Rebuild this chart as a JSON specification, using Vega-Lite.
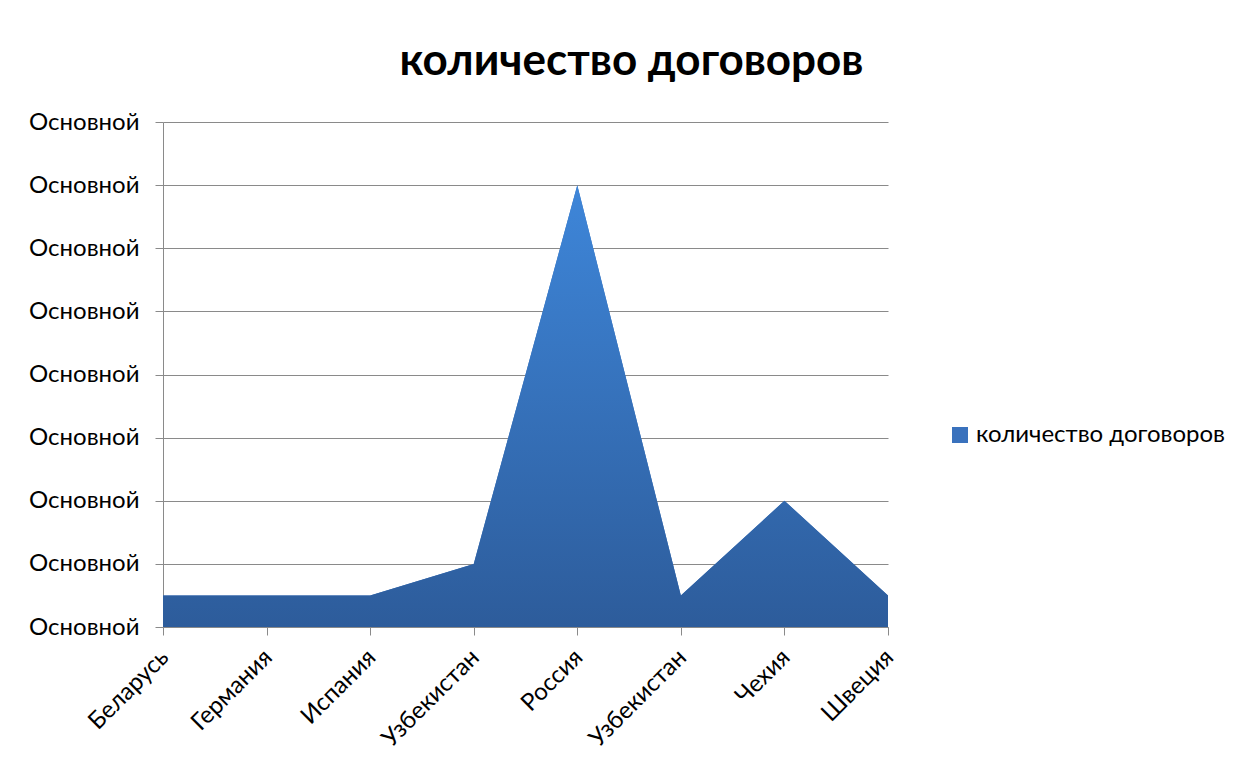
{
  "$schema": "https://vega.github.io/schema/vega-lite/v6.json",
  "autosize": {"type": "none"},
  "width": 725,
  "height": 505,
  "padding": {"left": 163, "top": 122, "right": 357, "bottom": 142},
  "background": "white",
  "title": {
    "text": "количество договоров",
    "font": "Lato",
    "fontSize": 44,
    "fontWeight": "bold",
    "color": "#000000",
    "anchor": "middle",
    "frame": "group",
    "dx": 106,
    "offset": 26
  },
  "data": {
    "values": [
      {"country": "Беларусь", "value": 1, "series": "количество договоров"},
      {"country": "Германия", "value": 1, "series": "количество договоров"},
      {"country": "Испания", "value": 1, "series": "количество договоров"},
      {"country": "Узбекистан", "value": 2, "series": "количество договоров"},
      {"country": "Россия", "value": 14, "series": "количество договоров"},
      {"country": "Узбекистан ", "value": 1, "series": "количество договоров"},
      {"country": "Чехия", "value": 4, "series": "количество договоров"},
      {"country": "Швеция", "value": 1, "series": "количество договоров"}
    ]
  },
  "encoding": {
    "x": {
      "field": "country",
      "type": "ordinal",
      "sort": null,
      "scale": {"type": "point", "padding": 0},
      "axis": {
        "title": null,
        "labelAngle": -45,
        "labelFont": "Lato",
        "labelFontSize": 24,
        "labelColor": "#000000",
        "labelPadding": 10,
        "labelOffset": -7,
        "labelLimit": 0,
        "tickSize": 8,
        "tickColor": "#8a8a8a",
        "domainColor": "#8a8a8a",
        "grid": false
      }
    },
    "y": {
      "field": "value",
      "type": "quantitative",
      "scale": {"domain": [0, 16], "nice": false},
      "axis": {
        "title": null,
        "values": [0, 2, 4, 6, 8, 10, 12, 14, 16],
        "labelExpr": "'Основной'",
        "labelFont": "Lato",
        "labelFontSize": 24,
        "labelColor": "#000000",
        "labelPadding": 16,
        "labelLimit": 0,
        "tickSize": 8,
        "tickColor": "#8a8a8a",
        "domainColor": "#8a8a8a",
        "grid": true,
        "gridColor": "#8a8a8a",
        "gridWidth": 1
      }
    }
  },
  "layer": [
    {
      "mark": {"type": "area", "line": false, "strokeWidth": 0},
      "encoding": {
        "color": {
          "field": "series",
          "type": "nominal",
          "scale": {"range": ["#3a72bd"]},
          "legend": {
            "title": null,
            "orient": "none",
            "legendX": 785,
            "legendY": 301,
            "symbolType": "square",
            "symbolSize": 256,
            "symbolStrokeWidth": 0,
            "labelFont": "Lato",
            "labelFontSize": 24,
            "labelColor": "#000000",
            "labelOffset": 4,
            "labelLimit": 0,
            "padding": 0
          }
        }
      }
    },
    {
      "mark": {
        "type": "area",
        "line": false,
        "strokeWidth": 0,
        "color": {
          "gradient": "linear", "x1": 0, "y1": 0, "x2": 0, "y2": 1,
          "stops": [{"offset": 0, "color": "#3e86d9"}, {"offset": 1, "color": "#2d5c9b"}]
        }
      },
      "encoding": {}
    }
  ],
  "config": {
    "view": {"stroke": null}
  }
}
